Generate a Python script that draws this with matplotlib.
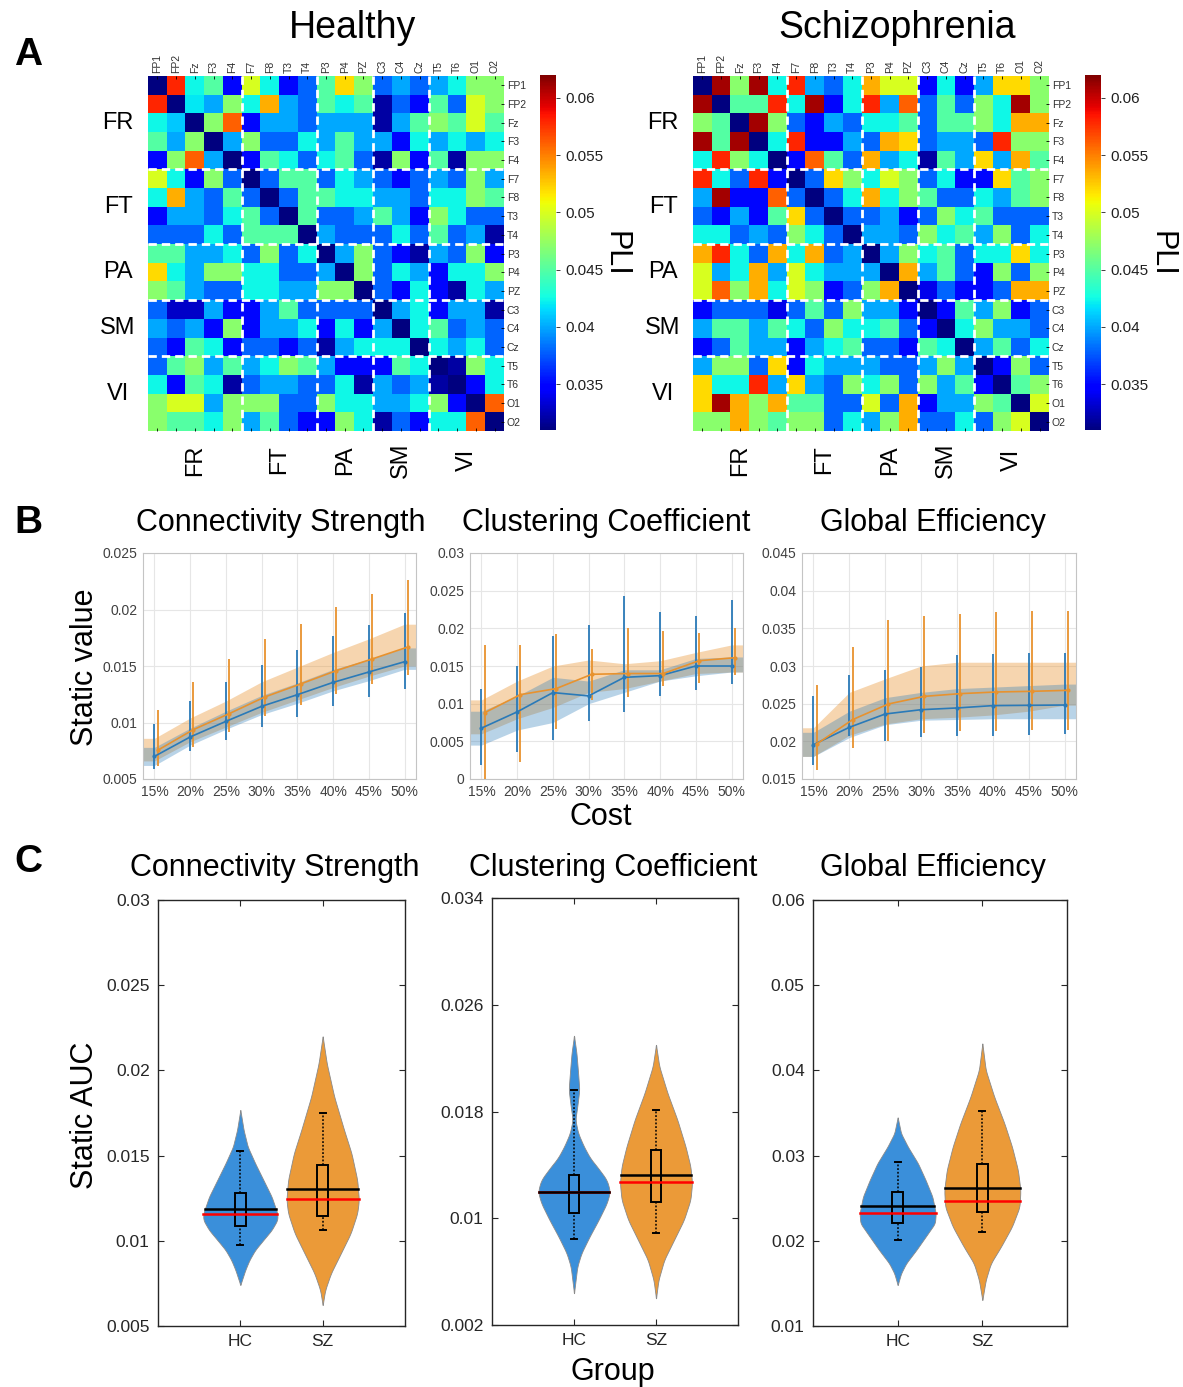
import numpy as np
import matplotlib
matplotlib.use("Agg")
import matplotlib.pyplot as plt
from matplotlib.ticker import FuncFormatter

plt.rcParams['font.family'] = ['Liberation Sans', 'DejaVu Sans']

# ---------------- DATA ----------------
channels = ['FP1', 'FP2', 'Fz', 'F3', 'F4', 'F7', 'F8', 'T3', 'T4', 'P3', 'P4', 'PZ',
            'C3', 'C4', 'Cz', 'T5', 'T6', 'O1', 'O2']
groups = ['FR', 'FT', 'PA', 'SM', 'VI']
group_sizes = [5, 4, 3, 3, 4]

pli_healthy = [
    [.031, .058, .0425, .045, .035, .050, .0425, .035, .038, .045, .052, .047, .038, .040, .038, .040, .0425, .047, .047],
    [.058, .031, .042, .040, .047, .0425, .0535, .040, .038, .045, .0425, .045, .032, .038, .035, .045, .038, .050, .047],
    [.0425, .041, .031, .047, .056, .035, .040, .040, .038, .040, .040, .040, .032, .040, .045, .047, .045, .050, .045],
    [.045, .040, .047, .031, .040, .047, .038, .038, .0425, .040, .045, .040, .040, .035, .0425, .040, .0425, .040, .0425],
    [.035, .047, .056, .040, .031, .035, .045, .0425, .038, .0425, .045, .038, .032, .047, .035, .045, .032, .047, .047],
    [.050, .0425, .035, .047, .038, .031, .038, .045, .045, .038, .0425, .040, .038, .035, .038, .040, .038, .047, .040],
    [.0425, .0535, .040, .038, .045, .038, .031, .038, .045, .045, .0425, .0425, .040, .040, .038, .0425, .0425, .047, .045],
    [.035, .040, .040, .038, .0425, .045, .038, .031, .045, .038, .038, .040, .045, .040, .035, .047, .0425, .038, .038],
    [.038, .038, .038, .0425, .038, .045, .045, .045, .031, .040, .038, .038, .038, .0425, .038, .045, .038, .040, .032],
    [.045, .045, .040, .040, .0425, .038, .047, .038, .0425, .031, .040, .047, .038, .035, .032, .040, .038, .047, .035],
    [.052, .0425, .040, .047, .047, .0425, .0425, .038, .038, .040, .031, .047, .038, .0425, .040, .035, .0425, .0425, .047],
    [.047, .045, .040, .038, .038, .0425, .0425, .040, .040, .047, .047, .031, .038, .035, .0425, .035, .032, .0425, .040],
    [.038, .033, .033, .040, .035, .035, .040, .045, .038, .038, .038, .038, .031, .040, .0425, .035, .040, .040, .032],
    [.040, .038, .040, .035, .047, .035, .040, .040, .0425, .035, .0425, .035, .040, .031, .0425, .045, .038, .040, .038],
    [.038, .035, .045, .0425, .035, .038, .038, .035, .038, .032, .040, .0425, .0425, .0425, .031, .0425, .040, .0425, .038],
    [.038, .045, .047, .040, .045, .040, .0425, .047, .045, .040, .035, .035, .035, .045, .0425, .031, .032, .047, .0425],
    [.0425, .035, .045, .0425, .032, .038, .040, .040, .038, .038, .0425, .032, .040, .038, .040, .032, .031, .035, .0425],
    [.047, .050, .050, .040, .047, .047, .047, .038, .038, .047, .0425, .0425, .040, .040, .0425, .047, .035, .031, .056],
    [.047, .045, .045, .0425, .047, .040, .045, .038, .035, .035, .047, .0425, .032, .038, .035, .0425, .0425, .056, .031],
]

pli_schizo = [
    [.031, .061, .047, .061, .0425, .058, .040, .038, .0425, .0535, .050, .050, .035, .0425, .035, .040, .052, .052, .047],
    [.061, .031, .045, .045, .058, .0425, .061, .035, .0425, .058, .040, .056, .038, .045, .038, .047, .0425, .061, .047],
    [.047, .045, .031, .061, .047, .038, .035, .040, .038, .0425, .0425, .045, .038, .045, .045, .047, .0425, .0535, .0535],
    [.061, .045, .061, .031, .0425, .058, .035, .035, .040, .038, .0535, .052, .038, .040, .040, .038, .058, .047, .047],
    [.0425, .058, .047, .0425, .031, .035, .056, .045, .038, .0535, .040, .0425, .032, .045, .040, .052, .040, .0535, .045],
    [.058, .0425, .038, .058, .035, .031, .038, .052, .047, .0425, .050, .047, .038, .0425, .035, .035, .052, .045, .047],
    [.040, .061, .035, .035, .056, .038, .031, .038, .0425, .0535, .0425, .047, .045, .038, .038, .0425, .040, .045, .047],
    [.038, .035, .040, .035, .045, .052, .038, .031, .038, .038, .040, .035, .038, .047, .0425, .045, .038, .038, .038],
    [.0425, .0425, .038, .040, .038, .047, .0425, .038, .031, .040, .040, .038, .047, .0425, .045, .040, .047, .038, .0425],
    [.0535, .058, .0425, .038, .0535, .0425, .0535, .038, .040, .031, .040, .047, .0425, .045, .038, .0425, .0425, .052, .0425],
    [.050, .040, .0425, .0535, .040, .050, .0425, .040, .040, .040, .031, .0535, .040, .045, .038, .035, .047, .038, .047],
    [.050, .056, .047, .0535, .0425, .050, .047, .035, .038, .047, .0535, .031, .034, .038, .035, .035, .038, .0535, .0535],
    [.035, .038, .038, .038, .034, .038, .045, .038, .047, .040, .040, .035, .031, .035, .045, .040, .047, .035, .038],
    [.040, .045, .045, .040, .045, .0425, .038, .047, .0425, .0425, .045, .038, .035, .031, .0425, .047, .040, .040, .038],
    [.035, .038, .045, .040, .040, .035, .040, .0425, .045, .038, .038, .035, .045, .0425, .031, .040, .045, .038, .0425],
    [.040, .047, .047, .038, .052, .035, .0425, .040, .040, .040, .038, .038, .040, .047, .040, .031, .035, .047, .038],
    [.052, .0425, .0425, .058, .040, .052, .040, .038, .047, .0425, .047, .038, .047, .040, .045, .035, .031, .045, .047],
    [.052, .061, .0535, .047, .0535, .045, .045, .038, .038, .050, .038, .0535, .035, .040, .040, .047, .045, .031, .050],
    [.047, .047, .0535, .047, .045, .047, .047, .038, .0425, .040, .047, .0535, .038, .038, .0425, .038, .047, .050, .031],
]

# Panel B: static values vs cost
cost = [15, 20, 25, 30, 35, 40, 45, 50]
cost_labels = ['15%', '20%', '25%', '30%', '35%', '40%', '45%', '50%']

cs_hc_mean = [0.0070, 0.00872, 0.0101, 0.01143, 0.01246, 0.01355, 0.01447, 0.01538]
cs_hc_top = [0.0099, 0.01193, 0.01355, 0.01512, 0.01645, 0.01762, 0.01866, 0.01969]
cs_hc_bot = [0.00589, 0.00750, 0.00848, 0.0096, 0.01049, 0.01143, 0.01223, 0.01296]
cs_sz_mean = [0.00754, 0.00937, 0.01078, 0.01226, 0.01341, 0.01459, 0.01562, 0.01668]
cs_sz_top = [0.01114, 0.01360, 0.01560, 0.01739, 0.01875, 0.02019, 0.0214, 0.02264]
cs_sz_bot = [0.00618, 0.00783, 0.00913, 0.0106, 0.01152, 0.01255, 0.01341, 0.01423]
cs_hc_lo = [0.0062, 0.0080, 0.0094, 0.0107, 0.0117, 0.0128, 0.0137, 0.0147]
cs_hc_hi = [0.0078, 0.0095, 0.0110, 0.0124, 0.0135, 0.0147, 0.0156, 0.0166]
cs_sz_lo = [0.0066, 0.0083, 0.0096, 0.0109, 0.0120, 0.0131, 0.0141, 0.0150]
cs_sz_hi = [0.0086, 0.0104, 0.0119, 0.0136, 0.0149, 0.0162, 0.0174, 0.0187]

cc_hc_mean = [0.00675, 0.00891, 0.01147, 0.01103, 0.0135, 0.01372, 0.0150, 0.0150]
cc_hc_top = [0.01191, 0.0150, 0.01897, 0.02043, 0.0243, 0.02219, 0.02162, 0.02382]
cc_hc_bot = [0.0019, 0.00357, 0.00512, 0.00776, 0.00896, 0.01103, 0.01182, 0.01257]
cc_sz_mean = [0.0088, 0.0112, 0.0120, 0.0139, 0.0140, 0.0140, 0.0157, 0.0161]
cc_sz_top = [0.0178, 0.0178, 0.0193, 0.0172, 0.0200, 0.0196, 0.0194, 0.0201]
cc_sz_bot = [-0.001, 0.0022, 0.0066, 0.0105, 0.0109, 0.0124, 0.0128, 0.0138]
cc_hc_lo = [0.0045, 0.0065, 0.0075, 0.0100, 0.0115, 0.0130, 0.0137, 0.0142]
cc_hc_hi = [0.0090, 0.0110, 0.0135, 0.0130, 0.0145, 0.0145, 0.0160, 0.0162]
cc_sz_lo = [0.0060, 0.0080, 0.0095, 0.0115, 0.0120, 0.0130, 0.0140, 0.0142]
cc_sz_hi = [0.0105, 0.0130, 0.0150, 0.0158, 0.0153, 0.0157, 0.0168, 0.0178]

ge_hc_mean = [0.01956, 0.02186, 0.02363, 0.0242, 0.02443, 0.02474, 0.02478, 0.02482]
ge_hc_top = [0.02606, 0.02876, 0.02951, 0.02987, 0.0315, 0.03164, 0.03173, 0.03173]
ge_hc_bot = [0.01686, 0.02075, 0.0200, 0.02053, 0.02066, 0.02075, 0.02089, 0.02093]
ge_sz_mean = [0.01965, 0.02288, 0.02496, 0.02597, 0.02633, 0.02655, 0.02664, 0.02677]
ge_sz_top = [0.02752, 0.03252, 0.03606, 0.03668, 0.0369, 0.03713, 0.03726, 0.03735]
ge_sz_bot = [0.01624, 0.01912, 0.02009, 0.02111, 0.02133, 0.02142, 0.02155, 0.02155]
ge_hc_lo = [0.0180, 0.0205, 0.0222, 0.0228, 0.0229, 0.0230, 0.0230, 0.0230]
ge_hc_hi = [0.0212, 0.0240, 0.0258, 0.0265, 0.0270, 0.0272, 0.0274, 0.0276]
ge_sz_lo = [0.0180, 0.0208, 0.0223, 0.0230, 0.0232, 0.0235, 0.0240, 0.0248]
ge_sz_hi = [0.0218, 0.0265, 0.0283, 0.0300, 0.0305, 0.0305, 0.0305, 0.0305]

# Panel C: violin outlines (value levels, half widths) and box statistics
group_names = ['HC', 'SZ']

cs_hc_vy = [0.01768, 0.0165, 0.01552, 0.01455, 0.01357, 0.01259, 0.01161, 0.01122, 0.01063, 0.01005, 0.00946, 0.00887, 0.00829, 0.00741]
cs_hc_vw = [0.0, 0.04, 0.09, 0.18, 0.28, 0.38, 0.45, 0.45, 0.38, 0.28, 0.18, 0.11, 0.06, 0.0]
cs_sz_vy = [0.0220, 0.0204, 0.01846, 0.0165, 0.01513, 0.01357, 0.01239, 0.01161, 0.01044, 0.00926, 0.00809, 0.00711, 0.00623]
cs_sz_vw = [0.0, 0.05, 0.14, 0.26, 0.35, 0.42, 0.44, 0.42, 0.34, 0.22, 0.10, 0.03, 0.0]
cs_box = {'HC': dict(q1=0.01087, q3=0.01278, wlo=0.00975, whi=0.01529, mean=0.01187, median=0.01157),
          'SZ': dict(q1=0.01146, q3=0.01445, wlo=0.01063, whi=0.01748, mean=0.01304, median=0.01245)}

cc_hc_vy = [0.02368, 0.02238, 0.02088, 0.01963, 0.01838, 0.01738, 0.01638, 0.01538, 0.01448, 0.01388, 0.01288, 0.0120, 0.01113, 0.00988, 0.00863, 0.00738, 0.00638, 0.00438]
cc_hc_vw = [0.0, 0.03, 0.05, 0.065, 0.04, 0.016, 0.05, 0.12, 0.20, 0.28, 0.40, 0.44, 0.40, 0.30, 0.19, 0.09, 0.04, 0.0]
cc_sz_vy = [0.0230, 0.02138, 0.01938, 0.01738, 0.01538, 0.01388, 0.01263, 0.01138, 0.00988, 0.00838, 0.00688, 0.00538, 0.0040]
cc_sz_vw = [0.0, 0.04, 0.14, 0.26, 0.36, 0.42, 0.44, 0.42, 0.34, 0.22, 0.10, 0.03, 0.0]
cc_box = {'HC': dict(q1=0.01037, q3=0.01325, wlo=0.00843, whi=0.01963, mean=0.0120, median=0.01193),
          'SZ': dict(q1=0.01125, q3=0.01508, wlo=0.00893, whi=0.01813, mean=0.01325, median=0.0127)}

ge_hc_vy = [0.03449, 0.03261, 0.03105, 0.02909, 0.02713, 0.02518, 0.02322, 0.02205, 0.02048, 0.01892, 0.01735, 0.01618, 0.01481]
ge_hc_vw = [0.0, 0.04, 0.12, 0.24, 0.33, 0.41, 0.45, 0.44, 0.33, 0.22, 0.10, 0.04, 0.0]
ge_sz_vy = [0.04317, 0.04004, 0.03691, 0.03379, 0.03105, 0.02831, 0.02596, 0.0240, 0.02166, 0.01931, 0.01735, 0.0154, 0.01305]
ge_sz_vw = [0.0, 0.04, 0.14, 0.26, 0.35, 0.42, 0.45, 0.44, 0.35, 0.22, 0.10, 0.04, 0.0]
ge_box = {'HC': dict(q1=0.02213, q3=0.02577, wlo=0.02009, whi=0.02929, mean=0.02408, median=0.02322),
          'SZ': dict(q1=0.02334, q3=0.02901, wlo=0.02107, whi=0.03523, mean=0.02616, median=0.02471)}

# ---------------- FIGURE ----------------
W, H = 1183, 1387
fig = plt.figure(figsize=(W / 100, H / 100), dpi=100)


def rect(l, t, r, b):
    return [l / W, 1 - b / H, (r - l) / W, (b - t) / H]


def ftext(x, y, s, **kw):
    fig.text(x / W, 1 - y / H, s, **kw)


gfmt = FuncFormatter(lambda v, p: '%g' % round(v, 6))
VMIN, VMAX = 0.031, 0.062


def draw_heatmap(mat, hrect, crect, title, tcx, pli_x):
    ax = fig.add_axes(rect(*hrect))
    im = ax.imshow(np.array(mat), cmap='jet', vmin=VMIN, vmax=VMAX, aspect='auto',
                   interpolation='nearest')
    n = len(channels)
    ax.set_xlim(-0.5, n - 0.5)
    ax.set_ylim(n - 0.5, -0.5)
    ax.set_xticks(range(n))
    ax.set_yticks(range(n))
    ax.xaxis.tick_top()
    ax.yaxis.tick_right()
    ax.set_xticklabels(channels, rotation=90, fontsize=7.5, color='#303030')
    ax.set_yticklabels(channels, fontsize=7.5, color='#303030')
    ax.tick_params(direction='in', length=2, width=0.6, pad=2, bottom=True, top=True,
                   left=False, right=True, labelbottom=False, labelleft=False)
    for sp in ax.spines.values():
        sp.set_visible(False)
    bounds = np.cumsum(group_sizes)[:-1] - 0.5
    for b in bounds:
        ax.axhline(b, color='white', lw=2.0, ls=(0, (3.0, 1.8)))
        ax.axvline(b, color='white', lw=2.0, ls=(0, (3.0, 1.8)))
    starts = np.r_[0, np.cumsum(group_sizes)[:-1]]
    for g, s0, sz in zip(groups, starts, group_sizes):
        c = s0 + (sz - 1) / 2
        ax.text(-2.1, c, g, ha='center', va='center', fontsize=17, clip_on=False)
        ax.text(c, 20.05, g, ha='center', va='center', fontsize=17, rotation=90, clip_on=False)
    cax = fig.add_axes(rect(*crect))
    cb = fig.colorbar(im, cax=cax, ticks=[0.035, 0.04, 0.045, 0.05, 0.055, 0.06])
    cb.ax.yaxis.set_major_formatter(gfmt)
    cb.ax.tick_params(labelsize=11, length=3, width=0.6, direction='out', colors='#202020')
    cb.outline.set_visible(False)
    ftext(tcx, 28, title, ha='center', va='center', fontsize=27)
    ftext(pli_x, 254, 'PLI', ha='center', va='center', fontsize=22, rotation=-90)


draw_heatmap(pli_healthy, (148, 76, 504, 431), (540, 75, 556, 430), 'Healthy', 352, 616)
draw_heatmap(pli_schizo, (693, 76, 1049, 431), (1085, 75, 1101, 430), 'Schizophrenia', 897, 1162)

# Panel letters
ftext(28, 55, 'A', ha='center', va='center', fontsize=28, fontweight='bold')
ftext(28, 523, 'B', ha='center', va='center', fontsize=28, fontweight='bold')
ftext(28, 862, 'C', ha='center', va='center', fontsize=28, fontweight='bold')

# ---------------- Panel B ----------------
BLUE = '#2A7AB8'
ORANGE = '#E8922E'
b_specs = [
    ((143, 553, 416, 779), 'Connectivity Strength', (0.005, 0.025),
     (cs_hc_mean, cs_hc_top, cs_hc_bot, cs_hc_lo, cs_hc_hi),
     (cs_sz_mean, cs_sz_top, cs_sz_bot, cs_sz_lo, cs_sz_hi), 281),
    ((470, 553, 743, 779), 'Clustering Coefficient', (0.0, 0.03),
     (cc_hc_mean, cc_hc_top, cc_hc_bot, cc_hc_lo, cc_hc_hi),
     (cc_sz_mean, cc_sz_top, cc_sz_bot, cc_sz_lo, cc_sz_hi), 606),
    ((802, 553, 1076, 779), 'Global Efficiency', (0.015, 0.045),
     (ge_hc_mean, ge_hc_top, ge_hc_bot, ge_hc_lo, ge_hc_hi),
     (ge_sz_mean, ge_sz_top, ge_sz_bot, ge_sz_lo, ge_sz_hi), 933),
]
XL = (13.4, 51.6)
x = np.array(cost, dtype=float)
xb = np.r_[XL[0], x, XL[1]]
for r, title, ylim, hc, sz, tcx in b_specs:
    ax = fig.add_axes(rect(*r))
    for (mean, top, bot, lo, hi), col, alpha in ((sz, ORANGE, 0.38), (hc, BLUE, 0.33)):
        lo_e = np.r_[lo[0], lo, lo[-1]]
        hi_e = np.r_[hi[0], hi, hi[-1]]
        ax.fill_between(xb, lo_e, hi_e, color=col, alpha=alpha, lw=0)
    for (mean, top, bot, lo, hi), col, off in ((hc, BLUE, 0.0), (sz, ORANGE, 0.45)):
        m = np.array(mean)
        yerr = [m - np.array(bot), np.array(top) - m]
        ax.errorbar(x + off, m, yerr=yerr, color=col, lw=1.2, elinewidth=1.3, capsize=0,
                    marker='.', ms=4, zorder=3)
    ax.set_xlim(*XL)
    ax.set_ylim(*ylim)
    ax.set_xticks(cost)
    ax.set_xticklabels(cost_labels)
    ax.set_yticks(np.arange(ylim[0], ylim[1] + 1e-9, 0.005))
    ax.yaxis.set_major_formatter(gfmt)
    ax.grid(True, color='#e6e6e6', lw=0.8)
    ax.set_axisbelow(True)
    ax.tick_params(length=0, labelsize=10, colors='#404040', pad=4)
    for sp in ax.spines.values():
        sp.set_color('#c4c4c4')
        sp.set_linewidth(0.8)
    ftext(tcx, 523, title, ha='center', va='center', fontsize=22)

ftext(85, 667, 'Static value', ha='center', va='center', fontsize=22, rotation=90)
ftext(601, 817, 'Cost', ha='center', va='center', fontsize=22)

# ---------------- Panel C ----------------
VBLUE = '#3A8FDA'
VORANGE = '#EB9A38'
c_specs = [
    ((158, 900, 405, 1326), 'Connectivity Strength', (0.005, 0.03), np.arange(0.005, 0.0301, 0.005),
     [(cs_hc_vy, cs_hc_vw), (cs_sz_vy, cs_sz_vw)], cs_box, 275),
    ((492, 898, 738, 1325), 'Clustering Coefficient', (0.002, 0.034), [0.002, 0.01, 0.018, 0.026, 0.034],
     [(cc_hc_vy, cc_hc_vw), (cc_sz_vy, cc_sz_vw)], cc_box, 613),
    ((813, 900, 1067, 1326), 'Global Efficiency', (0.01, 0.06), np.arange(0.01, 0.0601, 0.01),
     [(ge_hc_vy, ge_hc_vw), (ge_sz_vy, ge_sz_vw)], ge_box, 933),
]


def smooth_profile(vy, vw):
    vy = np.array(vy)[::-1]
    vw = np.array(vw)[::-1]
    yy = np.linspace(vy[0], vy[-1], 400)
    ww = np.interp(yy, vy, vw)
    k = np.ones(15) / 15
    ws = np.convolve(np.r_[np.zeros(7), ww, np.zeros(7)], k, mode='valid')
    ws[0] = ws[-1] = 0
    return yy, ws


for r, title, ylim, ticks, profiles, box, tcx in c_specs:
    ax = fig.add_axes(rect(*r))
    for i, ((vy, vw), col, g) in enumerate(zip(profiles, (VBLUE, VORANGE), group_names)):
        cx = i + 1
        yy, ws = smooth_profile(vy, vw)
        ax.fill_betweenx(yy, cx - ws, cx + ws, color=col, lw=0.6, edgecolor='#8a8a8a', alpha=1.0,
                         zorder=2)
        st = box[g]
        ax.plot([cx, cx], [st['q3'], st['whi']], color='k', lw=1.1, ls=(0, (1.2, 1.2)), zorder=4)
        ax.plot([cx, cx], [st['wlo'], st['q1']], color='k', lw=1.1, ls=(0, (1.2, 1.2)), zorder=4)
        for wv in (st['wlo'], st['whi']):
            ax.plot([cx - 0.035, cx + 0.035], [wv, wv], color='k', lw=1.4, zorder=4)
        ax.add_patch(plt.Rectangle((cx - 0.065, st['q1']), 0.13, st['q3'] - st['q1'],
                                   fill=False, edgecolor='k', lw=1.4, zorder=5))
        for key, lc in (('median', '#FF0000'), ('mean', 'k')):
            hw = np.interp(st[key], yy, ws)
            ax.plot([cx - hw, cx + hw], [st[key], st[key]], color=lc, lw=1.8, zorder=6)
    ax.set_xlim(0, 3)
    ax.set_ylim(*ylim)
    ax.set_xticks([1, 2])
    ax.set_xticklabels(group_names)
    ax.set_yticks(ticks)
    ax.yaxis.set_major_formatter(gfmt)
    ax.tick_params(direction='in', length=4, width=0.8, labelsize=12.5, colors='#262626',
                   top=True, right=True, pad=6)
    for sp in ax.spines.values():
        sp.set_color('#262626')
        sp.set_linewidth(1.0)
    ftext(tcx, 868, title, ha='center', va='center', fontsize=22)

ftext(85, 1115, 'Static AUC', ha='center', va='center', fontsize=22, rotation=90)
ftext(613, 1372, 'Group', ha='center', va='center', fontsize=22)

fig.savefig('out.png', dpi=100)
